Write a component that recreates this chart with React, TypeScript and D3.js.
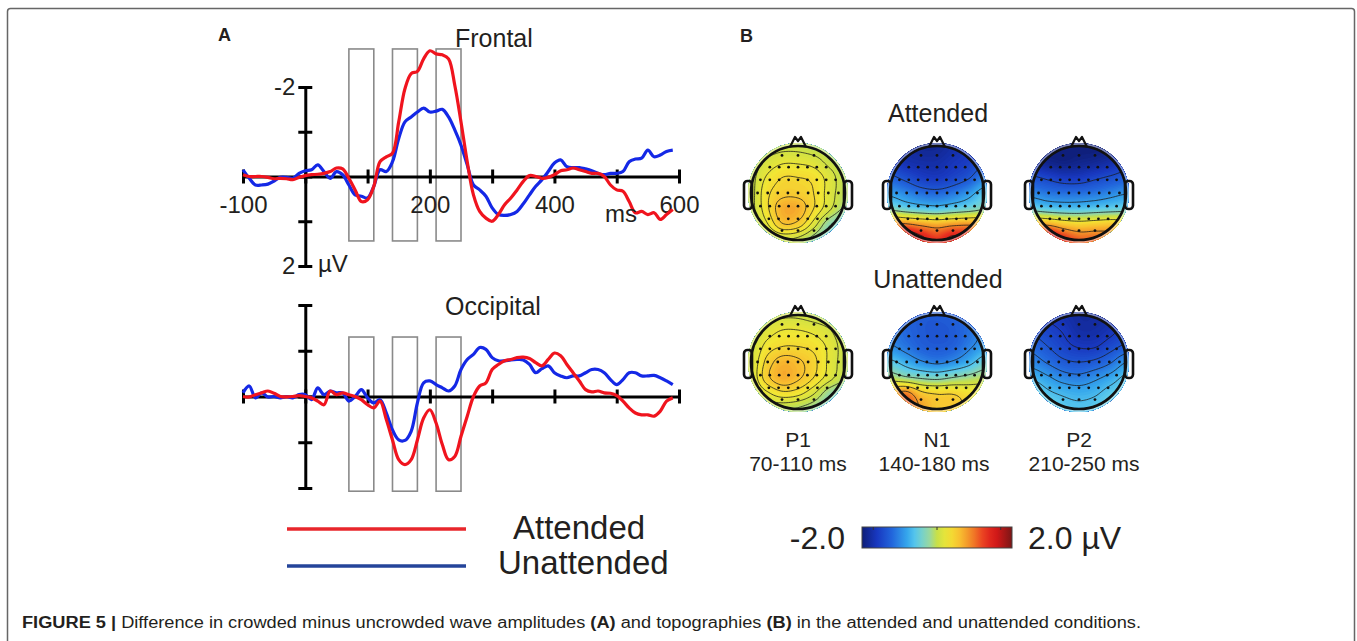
import React, { useEffect, useRef } from "react";
import * as d3 from "d3";

const FONT = "'Liberation Sans', Arial, Helvetica, sans-serif";
const INK = "#231f20";

// sample times (ms), one every 10 ms
const TIMES = [
  -100, -90, -80, -70, -60, -50, -40, -30, -20, -10,
  0, 10, 20, 30, 40, 50, 60, 70, 80, 90,
  100, 110, 120, 130, 140, 150, 160, 170, 180, 190,
  200, 210, 220, 230, 240, 250, 260, 270, 280, 290,
  300, 310, 320, 330, 340, 350, 360, 370, 380, 390,
  400, 410, 420, 430, 440, 450, 460, 470, 480, 490,
  500, 510, 520, 530, 540, 550, 560, 570, 580, 590,
];

// difference waves in µV (negative plotted up)
const FRONTAL_ATTENDED = [
  -0.04, 0, 0, 0, 0.02, 0.05, 0.04, 0.05, 0.07, 0.02,
  -0.02, -0.04, -0.05, -0.07, -0.11, -0.19, -0.17, 0.04, 0.3, 0.56,
  0.52, 0.22, -0.33, -0.44, -0.52, -1.22, -1.96, -2.3, -2.35, -2.63,
  -2.81, -2.74, -2.72, -2.63, -2.04, -1.22, -0.33, 0.41, 0.78, 0.93,
  1.0, 0.85, 0.63, 0.48, 0.3, 0.11, -0.02, 0, 0.04, 0.02,
  -0.04, -0.13, -0.15, -0.19, -0.15, -0.11, -0.07, -0.07, 0, 0.19,
  0.3, 0.33, 0.56, 0.81, 0.78, 0.85, 0.81, 0.96, 0.85, 0.74,
];
const FRONTAL_UNATTENDED = [
  -0.15, 0.04, 0.19, 0.19, 0.17, 0.1, 0.02, 0.02, 0.04, -0.07,
  -0.13, -0.15, -0.26, -0.11, 0.04, -0.11, -0.04, 0.19, 0.41, 0.44,
  0.48, 0.22, -0.15, -0.11, -0.33, -0.85, -1.22, -1.33, -1.44, -1.53,
  -1.44, -1.46, -1.5, -1.33, -1.04, -0.7, -0.26, 0.19, 0.3, 0.44,
  0.7, 0.85, 0.87, 0.85, 0.78, 0.61, 0.41, 0.22, 0.07, -0.11,
  -0.3, -0.37, -0.22, -0.2, -0.2, -0.17, -0.13, -0.07, -0.04, -0.07,
  -0.07, -0.11, -0.33, -0.39, -0.41, -0.59, -0.44, -0.48, -0.56, -0.59,
];
const OCCIPITAL_ATTENDED = [
  0, 0.01, -0.04, -0.08, -0.12, -0.07, 0, 0.01, 0, -0.02,
  0, 0.03, 0.1, 0.18, -0.12, -0.04, -0.08, -0.04, 0, 0.07,
  0.18, 0.25, 0.1, 0.5, 0.95, 1.38, 1.49, 1.38, 0.95, 0.47,
  0.29, 0.58, 1.05, 1.38, 1.31, 0.87, 0.43, 0, -0.23, -0.3,
  -0.59, -0.7, -0.78, -0.81, -0.85, -0.86, -0.83, -0.74, -0.67, -0.81,
  -0.95, -0.89, -0.7, -0.52, -0.34, -0.15, -0.1, -0.12, -0.08, -0.07,
  -0.02, 0.1, 0.25, 0.36, 0.4, 0.4, 0.43, 0.32, 0.1, 0.03,
];
const OCCIPITAL_UNATTENDED = [
  -0.08, -0.23, 0.03, -0.08, 0.01, 0, 0.03, 0, 0.03, -0.04,
  -0.04, 0.07, -0.19, -0.04, -0.12, -0.08, -0.08, 0.1, 0, -0.15,
  0.03, 0.14, 0.07, 0.36, 0.73, 0.95, 0.96, 0.76, 0.14, -0.3,
  -0.34, -0.26, -0.19, -0.12, -0.23, -0.59, -0.81, -0.92, -1.07, -1.03,
  -0.85, -0.78, -0.78, -0.8, -0.81, -0.8, -0.7, -0.52, -0.61, -0.67,
  -0.52, -0.45, -0.41, -0.45, -0.45, -0.52, -0.59, -0.59, -0.52, -0.37,
  -0.26, -0.37, -0.52, -0.52, -0.45, -0.45, -0.46, -0.41, -0.34, -0.26,
];

const X_TICKS = [-100, 0, 100, 200, 300, 400, 500, 600];
const X_LABELS = [-100, 200, 400, 600];
const Y_TICKS = [-2, -1, 0, 1, 2];
const Y_LABELS = [-2, 2];

const WINDOWS = [[70, 110], [140, 180], [210, 250]];
const COMPONENTS = ["P1", "N1", "P2"];
const WINDOW_TEXT = ["70-110 ms", "140-180 ms", "210-250 ms"];
const CONDITIONS = ["Attended", "Unattended"];

// topography values (µV), 7x7 grid, rows front -> back, cols left -> right
const TOPO_ATT_P1 = [
  [-0.1, -0.05, 0.0, 0.0, -0.05, -0.1, -0.15],
  [-0.05, 0.1, 0.2, 0.2, 0.15, 0.0, -0.1],
  [0.0, 0.25, 0.4, 0.4, 0.35, 0.15, -0.05],
  [0.0, 0.35, 0.5, 0.5, 0.4, 0.15, -0.05],
  [0.0, 0.35, 0.7, 0.7, 0.4, 0.1, -0.15],
  [-0.05, 0.2, 0.55, 0.5, 0.15, -0.25, -0.4],
  [-0.15, -0.05, 0.05, 0.0, -0.2, -0.4, -0.45],
];
const TOPO_ATT_N1 = [
  [-1.6, -1.75, -1.85, -1.85, -1.75, -1.6, -1.4],
  [-1.55, -1.7, -1.75, -1.75, -1.65, -1.55, -1.35],
  [-1.25, -1.4, -1.55, -1.6, -1.5, -1.35, -1.05],
  [-0.85, -1.0, -1.15, -1.2, -1.1, -0.9, -0.6],
  [-0.3, -0.45, -0.55, -0.6, -0.5, -0.4, -0.25],
  [1.0, 0.95, 0.8, 0.7, 0.8, 0.85, 0.8],
  [1.8, 2.0, 1.6, 1.3, 1.6, 1.5, 1.2],
];
const TOPO_ATT_P2 = [
  [-1.95, -2.0, -2.0, -2.0, -2.0, -1.95, -1.85],
  [-1.8, -1.9, -1.95, -1.9, -1.85, -1.75, -1.6],
  [-1.4, -1.5, -1.6, -1.6, -1.5, -1.4, -1.3],
  [-1.0, -1.1, -1.15, -1.15, -1.1, -1.0, -0.9],
  [-0.45, -0.55, -0.6, -0.6, -0.55, -0.5, -0.45],
  [0.8, 0.75, 0.55, 0.45, 0.5, 0.55, 0.5],
  [1.7, 1.95, 1.4, 1.1, 1.1, 1.0, 0.8],
];
const TOPO_UNATT_P1 = [
  [-0.1, 0.0, 0.05, 0.05, 0.0, -0.05, -0.1],
  [0.0, 0.15, 0.25, 0.25, 0.2, 0.1, -0.05],
  [0.05, 0.3, 0.4, 0.4, 0.35, 0.2, 0.0],
  [0.1, 0.45, 0.65, 0.6, 0.45, 0.2, 0.0],
  [0.1, 0.5, 0.7, 0.6, 0.4, 0.15, -0.05],
  [0.0, 0.2, 0.35, 0.3, 0.1, -0.2, -0.3],
  [-0.15, -0.05, -0.05, -0.1, -0.2, -0.35, -0.4],
];
const TOPO_UNATT_N1 = [
  [-1.05, -1.2, -1.3, -1.3, -1.25, -1.15, -0.95],
  [-1.05, -1.2, -1.3, -1.35, -1.3, -1.15, -0.95],
  [-0.95, -1.1, -1.25, -1.3, -1.25, -1.05, -0.85],
  [-0.55, -0.75, -0.95, -1.05, -0.95, -0.75, -0.45],
  [-0.05, -0.2, -0.3, -0.35, -0.25, -0.15, -0.05],
  [0.75, 0.95, 0.55, 0.45, 0.45, 0.35, 0.3],
  [0.9, 1.2, 0.8, 0.55, 0.55, 0.4, 0.2],
];
const TOPO_UNATT_P2 = [
  [-1.5, -1.6, -1.7, -1.8, -1.8, -1.75, -1.6],
  [-1.4, -1.5, -1.6, -1.75, -1.75, -1.65, -1.5],
  [-1.2, -1.35, -1.5, -1.6, -1.6, -1.45, -1.3],
  [-1.0, -1.15, -1.3, -1.35, -1.3, -1.15, -0.9],
  [-0.7, -0.85, -1.0, -1.05, -0.95, -0.8, -0.6],
  [-0.4, -0.6, -0.7, -0.75, -0.7, -0.55, -0.45],
  [-0.2, -0.4, -0.55, -0.6, -0.55, -0.45, -0.35],
];
const TOPO_ATTENDED = [TOPO_ATT_P1, TOPO_ATT_N1, TOPO_ATT_P2];
const TOPO_UNATTENDED = [TOPO_UNATT_P1, TOPO_UNATT_N1, TOPO_UNATT_P2];

// electrode rows (normalised head coords): y, count, half-width
const ELECTRODE_ROWS = [
  [-0.8, 3, 0.34],
  [-0.55, 7, 0.6],
  [-0.28, 9, 0.8],
  [0, 9, 0.86],
  [0.28, 9, 0.8],
  [0.55, 7, 0.62],
  [0.8, 3, 0.34],
];

const CMAP_DOMAIN = [-2.0, -1.6, -1.2, -0.8, -0.55, -0.2, 0.0, 0.3, 0.6, 0.9, 1.3, 1.6, 2.0];
const CMAP_COLORS = [
  "#0e1e78", "#1838c0", "#2266dc", "#35a6ec", "#5cccec", "#98d8a0",
  "#c8e048", "#f2e634", "#f8c030", "#f28a28", "#e83020", "#d01818", "#7a1616",
];
const CBAR_TICKS = [-1.7, 0, 1.7];

const RED = "#f0141e";
const BLUE = "#1428e6";

const cubic = (p0: number, p1: number, p2: number, p3: number, t: number) =>
  p1 + 0.5 * t * (p2 - p0 + t * (2 * p0 - 5 * p1 + 4 * p2 - p3 + t * (3 * (p1 - p2) + p3 - p0)));

function sampleGrid(grid: number[][], px: number, py: number) {
  const n = grid.length - 1;
  const u = Math.max(0, Math.min(n, ((px + 1) / 2) * n));
  const v = Math.max(0, Math.min(n, ((py + 1) / 2) * n));
  const i1 = Math.min(n - 1, Math.floor(u));
  const j1 = Math.min(n - 1, Math.floor(v));
  const cl = (k: number) => Math.max(0, Math.min(n, k));
  const rowVal = (j: number) =>
    cubic(grid[cl(j)][cl(i1 - 1)], grid[cl(j)][cl(i1)], grid[cl(j)][cl(i1 + 1)], grid[cl(j)][cl(i1 + 2)], u - i1);
  return cubic(rowVal(j1 - 1), rowVal(j1), rowVal(j1 + 1), rowVal(j1 + 2), v - j1);
}

const App = () => {
  const svgRef = useRef<SVGSVGElement>(null);

  useEffect(() => {
    const svg = d3.select(svgRef.current);
    svg.selectAll("*").remove();

    const color = d3
      .scaleLinear<string>()
      .domain(CMAP_DOMAIN)
      .range(CMAP_COLORS)
      .interpolate(d3.interpolateRgb)
      .clamp(true);

    // frame
    svg.append("rect")
      .attr("x", 7.5).attr("y", 8.5).attr("width", 1347).attr("height", 720).attr("rx", 3)
      .attr("fill", "none").attr("stroke", "#666").attr("stroke-width", 1.5);

    const text = (x: number, y: number, s: string, size: number, anchor = "start", weight = "normal") =>
      svg.append("text").attr("x", x).attr("y", y).attr("font-family", FONT).attr("font-size", size)
        .attr("text-anchor", anchor).attr("font-weight", weight).attr("fill", INK).text(s);

    text(218, 41, "A", 18, "start", "bold");
    text(740, 42, "B", 18, "start", "bold");

    // ---------- panel A: waveforms ----------
    const x = d3.scaleLinear().domain([-100, 600]).range([243, 679]);

    const panels = [
      { title: "Frontal", tx: 455, ty: 47, top: 87, bottom: 266, att: FRONTAL_ATTENDED, un: FRONTAL_UNATTENDED, box: [-2.85, 1.44], labels: true },
      { title: "Occipital", tx: 445, ty: 315, top: 305, bottom: 488, att: OCCIPITAL_ATTENDED, un: OCCIPITAL_UNATTENDED, box: [-1.3, 2.07], labels: false },
    ];

    panels.forEach((p) => {
      const g = svg.append("g");
      const y = d3.scaleLinear().domain([-2, 2]).range([p.top, p.bottom]);

      g.selectAll("rect.win").data(WINDOWS).join("rect")
        .attr("x", (d) => x(d[0])).attr("width", (d) => x(d[1]) - x(d[0]))
        .attr("y", y(p.box[0])).attr("height", y(p.box[1]) - y(p.box[0]))
        .attr("fill", "none").attr("stroke", "#8a8a8a").attr("stroke-width", 1.6);

      const line = d3.line<number>()
        .x((d, i) => x(TIMES[i]))
        .y((d) => y(d))
        .curve(d3.curveCatmullRom.alpha(0.5));

      const xAxis = d3.axisBottom(x).tickValues(X_TICKS).tickSizeInner(7).tickSizeOuter(0).tickPadding(12)
        .tickFormat((d) => (p.labels && X_LABELS.includes(+d) ? String(d) : ""));
      const gx = g.append("g").attr("transform", `translate(0,${y(0)})`).call(xAxis);
      gx.attr("font-family", FONT).attr("font-size", 24);
      gx.select(".domain").attr("stroke", "#000").attr("stroke-width", 3);
      gx.selectAll(".tick line").attr("y1", -7).attr("y2", 7).attr("stroke", "#000").attr("stroke-width", 3);
      gx.selectAll(".tick text").attr("fill", INK);

      const yAxis = d3.axisLeft(y).tickValues(Y_TICKS).tickSizeInner(7).tickSizeOuter(0).tickPadding(3)
        .tickFormat((d) => (p.labels && Y_LABELS.includes(+d) ? String(d) : ""));
      const gy = g.append("g").attr("transform", `translate(${x(0)},0)`).call(yAxis);
      gy.attr("font-family", FONT).attr("font-size", 24);
      gy.select(".domain").attr("stroke", "#000").attr("stroke-width", 3);
      gy.selectAll(".tick line").attr("x1", -7).attr("x2", 7).attr("stroke", "#000").attr("stroke-width", 3);
      gy.selectAll(".tick text").attr("fill", INK);

      g.append("path").attr("d", line(p.un)).attr("fill", "none").attr("stroke", BLUE)
        .attr("stroke-width", 3.2).attr("stroke-linejoin", "round");
      g.append("path").attr("d", line(p.att)).attr("fill", "none").attr("stroke", RED)
        .attr("stroke-width", 3.2).attr("stroke-linejoin", "round");

      text(p.tx, p.ty, p.title, 25);
      if (p.labels) {
        text(605, 222, "ms", 24);
        text(318, 272, "µV", 24);
      }
    });

    // legend
    const legend = [
      { label: CONDITIONS[0], color: "#e8262b", y: 529, tx: 513, ty: 539 },
      { label: CONDITIONS[1], color: "#24449a", y: 566, tx: 498, ty: 574 },
    ];
    legend.forEach((l) => {
      svg.append("line").attr("x1", 287).attr("x2", 466).attr("y1", l.y).attr("y2", l.y)
        .attr("stroke", l.color).attr("stroke-width", 3.5);
      text(l.tx, l.ty, l.label, 33);
    });

    // ---------- panel B: topographies ----------
    const R = 47;
    const headX = [798, 937, 1079];
    const headY = [193, 362];
    const titleY = [122, 288];
    const maps = [TOPO_ATTENDED, TOPO_UNATTENDED];

    const N = 64;
    const E = 1.14; // grid half-extent in head radii
    const step = (2 * E * R) / (N - 1);
    const fillLevels = d3.range(-2.6, 2.6, 0.04);
    const defs = svg.append("defs");

    maps.forEach((row, ri) => {
      text(938, titleY[ri], CONDITIONS[ri], 25, "middle");
      row.forEach((grid, ci) => {
        const cx = headX[ci];
        const cy = headY[ri];
        const id = `clip-${ri}-${ci}`;
        defs.append("clipPath").attr("id", id).append("circle").attr("cx", cx).attr("cy", cy).attr("r", R + 3);
        const id2 = `clipin-${ri}-${ci}`;
        defs.append("clipPath").attr("id", id2).append("circle").attr("cx", cx).attr("cy", cy).attr("r", R);

        const values: number[] = new Array(N * N);
        for (let j = 0; j < N; j++) {
          for (let i = 0; i < N; i++) {
            const px = -E + (2 * E * i) / (N - 1);
            const py = -E + (2 * E * j) / (N - 1);
            values[j * N + i] = sampleGrid(grid, px, py);
          }
        }
        const proj = d3.geoIdentity().scale(step).translate([cx - E * R - 0.5 * step, cy - E * R - 0.5 * step]);
        const path = d3.geoPath(proj);

        const bands = d3.contours().size([N, N]).thresholds(fillLevels)(values);
        const gm = svg.append("g").attr("clip-path", `url(#${id})`);
        gm.selectAll("path").data(bands).join("path")
          .attr("d", (d) => path(d))
          .attr("fill", (d) => color(d.value + 0.02));
        // faint halo ring outside the head
        svg.append("circle").attr("cx", cx).attr("cy", cy).attr("r", R + 2)
          .attr("fill", "none").attr("stroke", "#fff").attr("stroke-opacity", 0.45).attr("stroke-width", 2);

        const [mn, mx] = d3.extent(values) as [number, number];
        const lineLevels = d3.range(1, 7).map((k) => mn + (k * (mx - mn)) / 7);
        const lines = d3.contours().size([N, N]).thresholds(lineLevels)(values);
        svg.append("g").attr("clip-path", `url(#${id2})`)
          .selectAll("path").data(lines).join("path")
          .attr("d", (d) => path(d))
          .attr("fill", "none").attr("stroke", "#1a1a1a").attr("stroke-opacity", 0.85).attr("stroke-width", 0.9);

        // electrodes
        const dots: [number, number][] = [];
        ELECTRODE_ROWS.forEach(([ey, n, w]) => {
          for (let k = 0; k < n; k++) dots.push([-w + (2 * w * k) / (n - 1), ey]);
        });
        svg.append("g").selectAll("circle").data(dots).join("circle")
          .attr("cx", (d) => cx + d[0] * R).attr("cy", (d) => cy + d[1] * R)
          .attr("r", 1.4).attr("fill", "#111");

        // head outline, nose, ears
        const hg = svg.append("g").attr("transform", `translate(${cx},${cy})`)
          .attr("fill", "none").attr("stroke", "#111").attr("stroke-width", 2.6).attr("stroke-linejoin", "round");
        hg.append("circle").attr("r", R);
        hg.append("path").attr("d", `M-8,${-R + 1}L-3,${-R - 9}L0,${-R - 5}L3,${-R - 9}L8,${-R + 1}`).attr("stroke-width", 2.2);
        [-1, 1].forEach((s) => {
          hg.append("rect").attr("x", s < 0 ? -R - 7 : R - 1).attr("y", -12).attr("width", 8).attr("height", 28).attr("rx", 3.5);
        });

        if (ri === 1) {
          text(cx, 447, COMPONENTS[ci], 21, "middle");
          text(cx + (ci === 2 ? 5 : ci === 1 ? -3 : 0), 471, WINDOW_TEXT[ci], 21, "middle");
        }
      });
    });

    // colour bar
    const cb = d3.scaleLinear().domain([-2, 2]).range([862, 1012]);
    const grad = defs.append("linearGradient").attr("id", "cbar").attr("x1", "0%").attr("x2", "100%");
    grad.selectAll("stop").data(d3.range(0, 1.0001, 0.05)).join("stop")
      .attr("offset", (d) => `${d * 100}%`).attr("stop-color", (d) => color(-2 + 4 * d));
    svg.append("rect").attr("x", cb(-2)).attr("y", 527).attr("width", cb(2) - cb(-2)).attr("height", 21)
      .attr("fill", "url(#cbar)").attr("stroke", "#444").attr("stroke-width", 1);
    svg.append("g").selectAll("line").data(CBAR_TICKS).join("line")
      .attr("x1", (d) => cb(d)).attr("x2", (d) => cb(d)).attr("y1", 527).attr("y2", 530)
      .attr("stroke", "#333").attr("stroke-width", 1);
    text(845, 549, "-2.0", 32, "end");
    text(1028, 549, "2.0 µV", 32);

    // caption
    const cap = svg.append("text").attr("x", 22).attr("y", 628).attr("font-family", FONT)
      .attr("font-size", 16).attr("fill", INK).attr("textLength", 1119).attr("lengthAdjust", "spacingAndGlyphs");
    const parts: [string, boolean][] = [
      ["FIGURE 5 | ", true],
      ["Difference in crowded minus uncrowded wave amplitudes ", false],
      ["(A)", true],
      [" and topographies ", false],
      ["(B)", true],
      [" in the attended and unattended conditions.", false],
    ];
    parts.forEach(([s, b]) => cap.append("tspan").attr("font-weight", b ? "bold" : "normal").text(s));
  }, []);

  return (
    <svg
      ref={svgRef}
      width={1357}
      height={641}
      style={{ position: "absolute", left: 0, top: 0, background: "#fff" }}
    />
  );
};

export default App;
